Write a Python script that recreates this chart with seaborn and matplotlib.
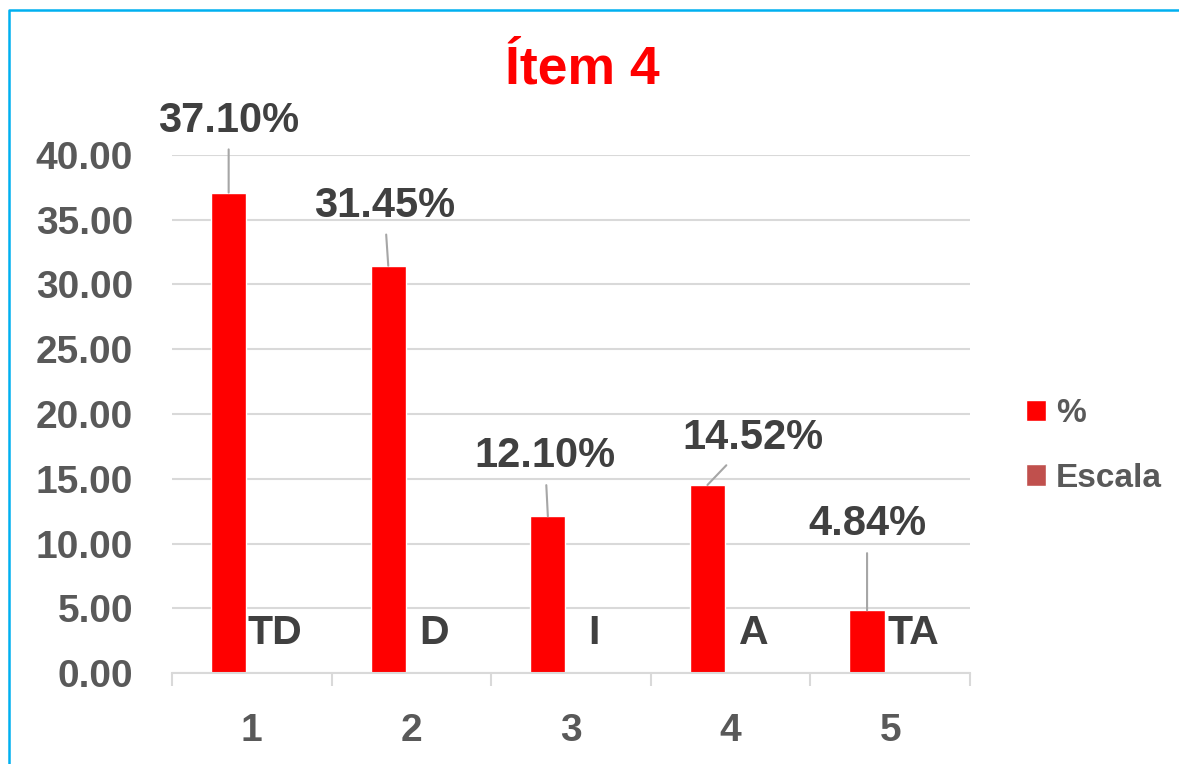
import pandas as pd
import matplotlib
matplotlib.use('Agg')
import matplotlib.pyplot as plt
import seaborn as sns
from matplotlib.lines import Line2D

# data
categories = ['1', '2', '3', '4', '5']
percent_values = [37.10, 31.45, 12.10, 14.52, 4.84]
escala_values = [0, 0, 0, 0, 0]
escala_labels = ['TD', 'D', 'I', 'A', 'TA']
series_names = ['%', 'Escala']
y_ticks = [0, 5, 10, 15, 20, 25, 30, 35, 40]

df = pd.DataFrame({
    'cat': categories * 2,
    'value': percent_values + escala_values,
    'serie': [series_names[0]] * 5 + [series_names[1]] * 5,
})

sns.set_theme(style="white")
plt.rcParams['font.family'] = ['Liberation Sans', 'DejaVu Sans']
plt.rcParams['font.weight'] = 'bold'

DPI = 100
W, H = 1179, 764
fig = plt.figure(figsize=(W / DPI, H / DPI), dpi=DPI)
ax = fig.add_axes([172 / W, 1 - 673 / H, (970 - 172) / W, (673 - 155) / H])

tick_color = '#595959'
label_color = '#404040'
grid_color = '#D9D9D9'

sns.barplot(data=df, x='cat', y='value', hue='serie', hue_order=series_names,
            palette=['#FF0000', '#C0504D'], width=0.58, gap=0.24,
            saturation=1, ax=ax, legend=True)

ax.set_ylim(0, 40)
ax.set_xlim(-0.5, 4.5)
ax.set_yticks(y_ticks)
ax.set_yticklabels([f'{v:.2f}' for v in y_ticks])
ax.set_xlabel('')
ax.set_ylabel('')
ax.grid(axis='y', color=grid_color, linewidth=1.5)
ax.set_axisbelow(True)
for s in ['top', 'right', 'left']:
    ax.spines[s].set_visible(False)
ax.spines['bottom'].set_color(grid_color)
ax.spines['bottom'].set_linewidth(1.5)

ax.tick_params(axis='y', length=0, pad=28, labelsize=28, labelcolor=tick_color)
ax.tick_params(axis='x', which='major', length=0, pad=29, labelsize=28, labelcolor=tick_color)
ax.set_xticks([i - 0.5 for i in range(6)], minor=True)
ax.tick_params(axis='x', which='minor', bottom=True, length=9, width=1.5,
               color=grid_color, direction='out')
for lbl in ax.get_xticklabels() + ax.get_yticklabels():
    lbl.set_fontweight('bold')

# data labels for the % series with leader lines
pct_bars = ax.patches[:5]
esc_bars = ax.patches[5:10]
label_offsets = [(0, 72), (-4, 60), (-3, 60), (45, 47), (0, 86)]
for bar, val, (dx, dy) in zip(pct_bars, percent_values, label_offsets):
    cx = bar.get_x() + bar.get_width() / 2
    ax.annotate(f'{val:.2f}%', xy=(cx, val), xytext=(dx * 0.72, dy * 0.72),
                textcoords='offset points', ha='center', va='center',
                fontsize=30, fontweight='bold', color=label_color,
                arrowprops=dict(arrowstyle='-', color='#A6A6A6', lw=1.5,
                                shrinkA=4, shrinkB=0))

# escala labels at the base
for bar, txt in zip(esc_bars, escala_labels):
    cx = bar.get_x() + bar.get_width() / 2
    ax.annotate(txt, xy=(cx, 0), xytext=(0, 40 * 0.72), textcoords='offset points',
                ha='center', va='center', fontsize=29.5, fontweight='bold',
                color=label_color)

# legend at the right
leg = ax.legend(loc='center left', bbox_to_anchor=(996 / W, 1 - 446 / H),
                bbox_transform=fig.transFigure, frameon=False, fontsize=24,
                handlelength=0.6, handleheight=0.6, handletextpad=0.3,
                labelspacing=1.0, title=None)
for t in leg.get_texts():
    t.set_color(tick_color)
    t.set_fontweight('bold')

fig.text(582 / W, 1 - 70 / H, 'Ítem 4', ha='center', va='center',
         fontsize=38.5, fontweight='bold', color='#FF0000')

# blue frame on the left and top
fig.add_artist(Line2D([9 / W, 9 / W, 1], [0, 1 - 10 / H, 1 - 10 / H],
                      transform=fig.transFigure, color='#00B0F0', linewidth=1.8))

fig.savefig('out.png', dpi=DPI)
plt.close(fig)
